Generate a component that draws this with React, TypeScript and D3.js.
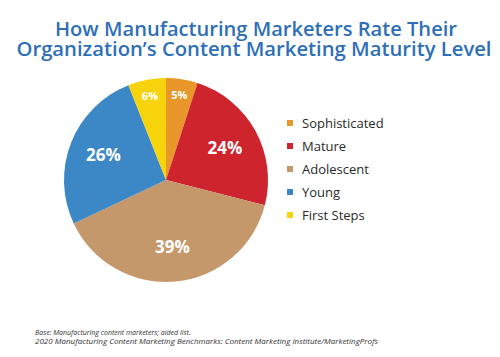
import React from "react";
import * as d3 from "d3";

const categories = ["Sophisticated", "Mature", "Adolescent", "Young", "First Steps"];
const values = [5, 24, 39, 26, 6];
const colors = ["#E9962A", "#CD242E", "#C5986B", "#3C88C7", "#F7D30C"];
const titleLines = [
  "How Manufacturing Marketers Rate Their",
  "Organization\u2019s Content Marketing Maturity Level",
];
const footnotes = [
  "Base: Manufacturing content marketers; aided list.",
  "2020 Manufacturing Content Marketing Benchmarks: Content Marketing Institute/MarketingProfs",
];

export default function App() {
  const W = 500, H = 357;
  const cx = 166, cy = 180, R = 102;
  const pie = d3.pie<number>().sort(null).value((d) => d);
  const arcs = pie(values);
  const arc = d3.arc<d3.PieArcDatum<number>>().innerRadius(0).outerRadius(R);
  const font = "'Open Sans', 'Noto Sans', sans-serif";
  const legendY = d3.scalePoint<string>().domain(categories).range([123, 215]);

  return (
    <svg width={W} height={H} style={{ position: "absolute", left: 0, top: 0, background: "#fff" }}>
      <g fontFamily={font} fontWeight={600} fill="#2E6FB7" textAnchor="middle" fontSize={19}>
        <text x={256} y={36} textLength={402} lengthAdjust="spacingAndGlyphs">{titleLines[0]}</text>
        <text x={254} y={55.5} textLength={475} lengthAdjust="spacingAndGlyphs">{titleLines[1]}</text>
      </g>
      <g transform={`translate(${cx},${cy})`}>
        {arcs.map((a, i) => (
          <path key={i} d={arc(a) || ""} fill={colors[i]} />
        ))}
        {arcs.map((a, i) => {
          const small = a.data < 10;
          const r = small ? R * 0.84 : R * 0.66;
          const mid = (a.startAngle + a.endAngle) / 2;
          const x = r * Math.sin(mid);
          const y = -r * Math.cos(mid);
          return (
            <text key={i} x={x} y={y} dy="0.36em" textAnchor="middle" fill="#fff"
              fontFamily={font} fontWeight={700} fontSize={small ? 11 : 17}>
              {a.data}%
            </text>
          );
        })}
      </g>
      <g fontFamily={font} fontSize={13} fill="#2a2a2a">
        {categories.map((c, i) => (
          <g key={c} transform={`translate(287,${legendY(c)})`}>
            <rect x={0} y={-3} width={6} height={6} fill={colors[i]} />
            <text x={15} y={0} dy="0.35em">{c}</text>
          </g>
        ))}
      </g>
      <g fontFamily={font} fontStyle="italic" fontSize={7} fill="#333">
        <text x={35} y={335}>{footnotes[0]}</text>
        <text x={35} y={344} textLength={343} lengthAdjust="spacingAndGlyphs">{footnotes[1]}</text>
      </g>
    </svg>
  );
}
